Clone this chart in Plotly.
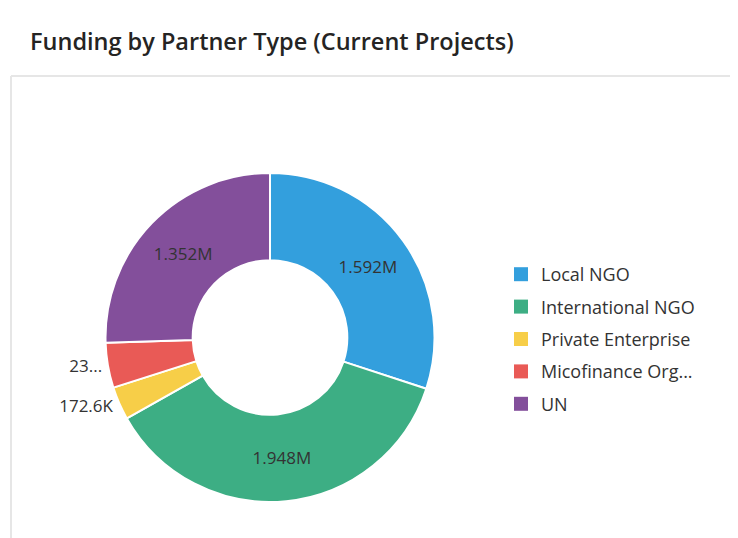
import plotly.graph_objects as go

# ---- data ----
categories = ["Local NGO", "International NGO", "Private Enterprise", "Micofinance Org...", "UN"]
values = [1592000, 1948000, 172600, 234000, 1352000]
value_labels = ["1.592M", "1.948M", "172.6K", "23...", "1.352M"]
label_positions = ["inside", "inside", "outside", "outside", "inside"]
colors = ["#339FDD", "#3DAE84", "#F7CE48", "#E95A56", "#834F9B"]

# page body has an 8px margin; figure coordinates are offset accordingly
OFF = 8
W, H = 730, 530
FONT = "Open Sans"


def px(x):
    return (x - OFF) / W


def py(y):
    return 1 - (y - OFF) / H


CX, CY, R = 270, 337.5, 164.5

fig = go.Figure()

fig.add_trace(go.Pie(
    labels=categories,
    values=values,
    text=value_labels,
    textinfo="text",
    textposition=label_positions,
    insidetextorientation="horizontal",
    hole=0.47,
    sort=False,
    direction="clockwise",
    rotation=0,
    marker=dict(colors=colors, line=dict(color="white", width=2)),
    insidetextfont=dict(family=FONT, size=17, color="#333333"),
    outsidetextfont=dict(family=FONT, size=17, color="#333333"),
    domain=dict(x=[px(CX - R), px(CX + R)], y=[py(CY + R), py(CY - R)]),
    showlegend=False,
))

# legend entries (one group per category for spacing)
for c, col in zip(categories, colors):
    fig.add_trace(go.Scatter(
        x=[None], y=[None], mode="markers", name=c,
        marker=dict(symbol="square", size=14, color=col),
        legendgroup=c, showlegend=True,
    ))

fig.update_layout(
    width=W, height=H,
    margin=dict(l=0, r=0, t=0, b=0),
    paper_bgcolor="white", plot_bgcolor="white",
    xaxis=dict(visible=False), yaxis=dict(visible=False),
    title=dict(text="Funding by Partner Type (Current Projects)",
               x=px(30), xanchor="left", y=py(42), yanchor="middle",
               font=dict(family=FONT, size=23.5, color="#252423", weight=600)),
    legend=dict(x=px(501), xanchor="left", y=py(256), yanchor="top",
                font=dict(family=FONT, size=18, color="#333333"),
                tracegroupgap=6, bgcolor="rgba(0,0,0,0)"),
    shapes=[
        dict(type="line", xref="paper", yref="paper", x0=px(11), x1=1, y0=py(76), y1=py(76),
             line=dict(color="#E6E6E6", width=2)),
        dict(type="line", xref="paper", yref="paper", x0=px(11), x1=px(11), y0=0, y1=py(76),
             line=dict(color="#E6E6E6", width=2)),
    ],
)

fig.write_html("out.html")
